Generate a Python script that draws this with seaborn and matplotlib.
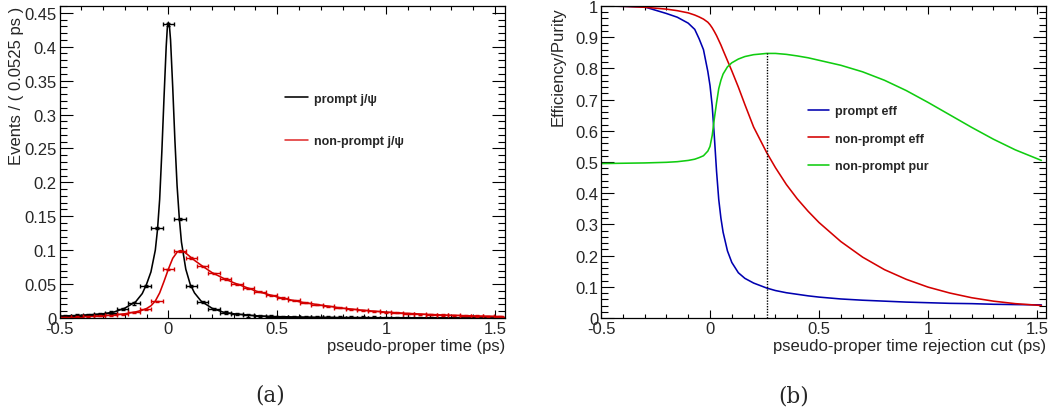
import numpy as np
import pandas as pd
import matplotlib
matplotlib.use("Agg")
import matplotlib.pyplot as plt
import seaborn as sns
from matplotlib.ticker import MultipleLocator, FuncFormatter
from matplotlib.lines import Line2D

sns.set_style("ticks")
plt.rcParams["font.family"] = ["Liberation Sans", "DejaVu Sans"]
plt.rcParams["axes.unicode_minus"] = False

# ---- panel (a): pseudo-proper time distributions ----
BIN_W = 0.0525
bin_centers = np.arange(-9, 30) * BIN_W

prompt_hist = [0.0030, 0.0036, 0.0045, 0.0058, 0.0080, 0.0130, 0.0215, 0.0470, 0.1330,
               0.4330, 0.1460, 0.0475, 0.0235, 0.0130, 0.0080, 0.0055, 0.0040, 0.0030,
               0.0022, 0.0017, 0.0013, 0.0011, 0.0009, 0.0008, 0.0007, 0.0006, 0.0005,
               0.0005, 0.0004, 0.0004, 0.0003, 0.0003, 0.0003, 0.0002, 0.0002, 0.0002,
               0.0002, 0.0002, 0.0001]
nonprompt_hist = [0.0013, 0.0018, 0.0024, 0.0032, 0.0042, 0.0058, 0.0085, 0.0130, 0.0250,
                  0.0720, 0.0985, 0.0885, 0.0760, 0.0660, 0.0575, 0.0500, 0.0440, 0.0385,
                  0.0335, 0.0295, 0.0260, 0.0228, 0.0198, 0.0172, 0.0150, 0.0131, 0.0114,
                  0.0100, 0.0087, 0.0076, 0.0066, 0.0058, 0.0050, 0.0044, 0.0038, 0.0033,
                  0.0029, 0.0025, 0.0022]

prompt_fit_x = [-0.5, -0.4, -0.3, -0.25, -0.2, -0.15, -0.12, -0.1, -0.08, -0.06, -0.05,
                -0.04, -0.03, -0.02, -0.01, -0.005, 0.0, 0.005, 0.01, 0.02, 0.03, 0.04,
                0.05, 0.06, 0.08, 0.1, 0.12, 0.15, 0.2, 0.25, 0.3, 0.4, 0.5, 0.7, 1.0, 1.54]
prompt_fit_y = [0.0028, 0.0040, 0.0062, 0.0088, 0.0145, 0.024, 0.036, 0.050, 0.068, 0.100,
                0.130, 0.175, 0.245, 0.325, 0.400, 0.427, 0.436, 0.430, 0.410, 0.340, 0.262,
                0.195, 0.148, 0.112, 0.072, 0.050, 0.037, 0.025, 0.0145, 0.0088, 0.0062,
                0.0033, 0.0020, 0.0009, 0.0004, 0.0001]

nonprompt_fit_x = [-0.5, -0.4, -0.3, -0.25, -0.2, -0.15, -0.12, -0.1, -0.08, -0.06, -0.04,
                   -0.02, 0.0, 0.02, 0.04, 0.055, 0.07, 0.09, 0.12, 0.15, 0.2, 0.25, 0.3,
                   0.35, 0.4, 0.5, 0.6, 0.7, 0.8, 0.9, 1.0, 1.1, 1.2, 1.3, 1.4, 1.54]
nonprompt_fit_y = [0.0012, 0.0020, 0.0035, 0.0045, 0.0062, 0.0090, 0.0115, 0.0140, 0.018,
                   0.025, 0.037, 0.054, 0.072, 0.088, 0.097, 0.0995, 0.098, 0.093, 0.085,
                   0.078, 0.067, 0.059, 0.052, 0.046, 0.040, 0.031, 0.024, 0.019, 0.0145,
                   0.0112, 0.0087, 0.0068, 0.0052, 0.0040, 0.0031, 0.0021]

# ---- panel (b): efficiency / purity vs cut ----
cut_x = [-0.5, -0.4, -0.3, -0.2, -0.15, -0.1, -0.07, -0.05, -0.03, -0.01, 0.0, 0.01, 0.02,
         0.03, 0.04, 0.05, 0.06, 0.08, 0.1, 0.13, 0.16, 0.2, 0.26, 0.3, 0.35, 0.4, 0.45,
         0.5, 0.6, 0.7, 0.8, 0.9, 1.0, 1.1, 1.2, 1.3, 1.4, 1.52]
prompt_eff = [1.0, 0.999, 0.997, 0.976, 0.964, 0.945, 0.925, 0.895, 0.86, 0.79, 0.745, 0.68,
              0.58, 0.47, 0.38, 0.32, 0.275, 0.215, 0.178, 0.145, 0.127, 0.112, 0.096,
              0.088, 0.081, 0.076, 0.071, 0.067, 0.061, 0.057, 0.054, 0.051, 0.049, 0.047,
              0.046, 0.044, 0.043, 0.042]
nonprompt_eff = [1.0, 0.999, 0.996, 0.99, 0.985, 0.978, 0.971, 0.965, 0.958, 0.948, 0.94,
                 0.93, 0.918, 0.905, 0.89, 0.875, 0.858, 0.825, 0.792, 0.74, 0.684, 0.612,
                 0.53, 0.482, 0.428, 0.382, 0.342, 0.306, 0.245, 0.195, 0.155, 0.124, 0.099,
                 0.080, 0.065, 0.054, 0.046, 0.040]
nonprompt_pur = [0.495, 0.496, 0.497, 0.499, 0.501, 0.505, 0.509, 0.514, 0.52, 0.535, 0.55,
                 0.585, 0.64, 0.69, 0.735, 0.762, 0.782, 0.805, 0.818, 0.83, 0.838, 0.844,
                 0.848, 0.848, 0.845, 0.84, 0.834, 0.826, 0.81, 0.789, 0.762, 0.729, 0.691,
                 0.651, 0.611, 0.573, 0.539, 0.505]
best_cut = 0.263
best_pur = 0.848

BLACK, RED, BLUE, GREEN = "black", "#d40000", "#0000b0", "#10cc10"
LW = 1.15

fig = plt.figure(figsize=(10.52, 4.14), dpi=100)
ax1 = fig.add_axes([59.5 / 1052, 95 / 414, 445.5 / 1052, 312 / 414])
ax2 = fig.add_axes([601 / 1052, 95 / 414, 445 / 1052, 312 / 414])

# panel (a)
sns.lineplot(x=prompt_fit_x, y=prompt_fit_y, ax=ax1, color=BLACK, lw=LW, estimator=None)
sns.lineplot(x=nonprompt_fit_x, y=nonprompt_fit_y, ax=ax1, color=RED, lw=LW, estimator=None)
ax1.errorbar(bin_centers, prompt_hist, xerr=BIN_W / 2, yerr=0.0018, fmt="none",
             ecolor=BLACK, elinewidth=1.0, capsize=1.6, capthick=1.0)
ax1.errorbar(bin_centers, nonprompt_hist, xerr=BIN_W / 2, yerr=0.0008, fmt="none",
             ecolor=RED, elinewidth=1.0, capsize=1.6, capthick=1.0)
ax1.set_xlim(-0.5, 1.546)
ax1.set_ylim(0, 0.46)
ax1.yaxis.set_major_locator(MultipleLocator(0.05))
ax1.yaxis.set_minor_locator(MultipleLocator(0.01))

h1 = [Line2D([], [], color=BLACK, lw=LW), Line2D([], [], color="#e03030", lw=LW)]
ax1.legend(h1, ["prompt j/ψ", "non-prompt j/ψ"], loc="upper left",
           bbox_to_anchor=(0.506, 0.722), frameon=False, borderpad=0, borderaxespad=0,
           labelspacing=2.45, handlelength=1.85, handletextpad=0.45,
           prop={"weight": "bold", "size": 9})
ax1.set_xlabel("pseudo-proper time (ps)", loc="right", fontsize=12)
ax1.set_ylabel("Events / ( 0.0525 ps )", loc="top", fontsize=12)
ax1.xaxis.set_label_coords(1.0, -0.064)
ax1.yaxis.set_label_coords(-0.080, 1.0)

# panel (b)
sns.lineplot(x=cut_x, y=prompt_eff, ax=ax2, color=BLUE, lw=LW, estimator=None)
sns.lineplot(x=cut_x, y=nonprompt_eff, ax=ax2, color=RED, lw=LW, estimator=None)
sns.lineplot(x=cut_x, y=nonprompt_pur, ax=ax2, color=GREEN, lw=LW, estimator=None)
ax2.vlines(best_cut, 0, best_pur, colors=BLACK, linestyles=(0, (1, 1)), lw=1.0)
ax2.set_xlim(-0.5, 1.541)
ax2.set_ylim(0, 1)
ax2.yaxis.set_major_locator(MultipleLocator(0.1))
ax2.yaxis.set_minor_locator(MultipleLocator(0.02))

h2 = [Line2D([], [], color=c, lw=LW) for c in (BLUE, RED, GREEN)]
ax2.legend(h2, ["prompt eff", "non-prompt eff", "non-prompt pur"], loc="upper left",
           bbox_to_anchor=(0.465, 0.683), frameon=False, borderpad=0, borderaxespad=0,
           labelspacing=1.25, handlelength=1.7, handletextpad=0.45,
           prop={"weight": "bold", "size": 9})
ax2.set_xlabel("pseudo-proper time rejection cut (ps)", loc="right", fontsize=12)
ax2.set_ylabel("Efficiency/Purity", loc="top", fontsize=12)
ax2.xaxis.set_label_coords(1.0, -0.064)
ax2.yaxis.set_label_coords(-0.080, 1.0)

fmt = FuncFormatter(lambda v, p: f"{round(v, 4):g}")
for ax in (ax1, ax2):
    ax.xaxis.set_major_locator(MultipleLocator(0.5))
    ax.xaxis.set_minor_locator(MultipleLocator(0.1))
    ax.xaxis.set_major_formatter(fmt)
    ax.yaxis.set_major_formatter(fmt)
    ax.tick_params(which="both", direction="in", top=True, right=True,
                   width=0.8, color="black", labelsize=12, pad=2)
    ax.tick_params(axis="y", which="major", length=9.4)
    ax.tick_params(axis="y", which="minor", length=4.8)
    ax.tick_params(axis="x", which="major", length=5.8)
    ax.tick_params(axis="x", which="minor", length=2.9)
    for s in ax.spines.values():
        s.set_linewidth(0.9)
        s.set_color("black")

fig.text(0.2567, 0.045, "(a)", ha="center", va="center", family="DejaVu Serif", fontsize=15.5)
fig.text(0.7548, 0.043, "(b)", ha="center", va="center", family="DejaVu Serif", fontsize=15.5)

fig.savefig("out.png", dpi=100)
